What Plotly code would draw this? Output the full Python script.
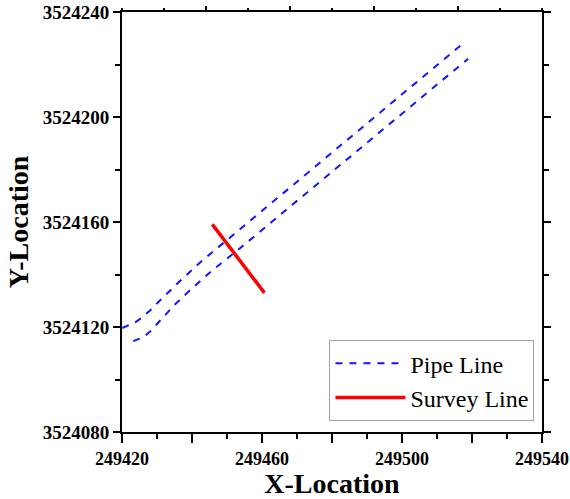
import plotly.graph_objects as go

# Pipe line (upper edge)
pipe_upper_x = [249420.1, 249423.8, 249425.8, 249428.1, 249430.9, 249433.8, 249436.7, 249442.4, 249516.8]
pipe_upper_y = [3524119.6, 3524121.8, 3524123.7, 3524126.4, 3524130.2, 3524134.1, 3524137.7, 3524144.7, 3524227.3]
# Pipe line (lower edge)
pipe_lower_x = [249423.2, 249426.1, 249428.1, 249430.9, 249435.2, 249439.5, 249445.2, 249453.8, 249518.9]
pipe_lower_y = [3524114.6, 3524116.1, 3524118.4, 3524122.6, 3524128.7, 3524134.1, 3524140.9, 3524150.1, 3524222.2]
# Survey line
survey_x = [249445.8, 249460.7]
survey_y = [3524159.1, 3524133.0]

x_tickvals = [249420, 249440, 249460, 249480, 249500, 249520, 249540]
x_ticktext = ["249420", "", "249460", "", "249500", "", "249540"]
y_tickvals = [3524080, 3524120, 3524160, 3524200, 3524240]
y_ticktext = ["3524080", "3524120", "3524160", "3524200", "3524240"]
top_tickvals = [249444, 249468, 249492, 249516]

FONT = "Liberation Serif"
BLUE = "#1414ff"
RED = "#ff0000"

fig = go.Figure()
fig.add_trace(go.Scatter(x=pipe_upper_x, y=pipe_upper_y, mode="lines", name="Pipe Line",
                         line=dict(color=BLUE, width=2, dash="7px,7px"), legendgroup="pipe"))
fig.add_trace(go.Scatter(x=pipe_lower_x, y=pipe_lower_y, mode="lines", name="Pipe Line",
                         line=dict(color=BLUE, width=2, dash="7px,7px"), legendgroup="pipe",
                         showlegend=False))
fig.add_trace(go.Scatter(x=survey_x, y=survey_y, mode="lines", name="Survey Line",
                         line=dict(color=RED, width=3.5)))
# invisible trace to activate top tick axis
fig.add_trace(go.Scatter(x=[249420, 249540], y=[3524080, 3524080], xaxis="x2", mode="lines",
                         line=dict(width=0), showlegend=False, hoverinfo="skip", opacity=0))

fig.update_layout(
    width=570, height=499,
    margin=dict(l=122, r=28, t=12, b=67, autoexpand=False),
    paper_bgcolor="white", plot_bgcolor="white",
    showlegend=True,
    legend=dict(x=0.982, y=0.026, xanchor="right", yanchor="bottom",
                bordercolor="#a0a0a0", borderwidth=1, bgcolor="white",
                font=dict(family=FONT, size=24, color="black"),
                itemwidth=70, tracegroupgap=0),
    xaxis=dict(range=[249420, 249540], tickmode="array", tickvals=x_tickvals, ticktext=x_ticktext,
               ticks="outside", ticklen=9, tickwidth=1.5, tickcolor="black", automargin=False,
               minor=dict(dtick=10, tick0=249420, ticks="outside", ticklen=5, tickwidth=1.5, tickcolor="black"),
               showline=True, linecolor="black", linewidth=2, mirror=True,
               showgrid=False, zeroline=False,
               tickfont=dict(family=FONT, size=18, color="black", weight="bold"),
               title=dict(text="X-Location", font=dict(family=FONT, size=28, color="black", weight="bold"),
                          standoff=2)),
    xaxis2=dict(range=[249420, 249540], overlaying="x", side="top", anchor="y", automargin=False,
                tickmode="array", tickvals=top_tickvals, showticklabels=False,
                ticks="outside", ticklen=5, tickwidth=1.5, tickcolor="black",
                minor=dict(dtick=12, tick0=249540, ticks="outside", ticklen=3, tickwidth=1.5, tickcolor="black"),
                showline=False, showgrid=False, zeroline=False),
    yaxis=dict(range=[3524080, 3524240], tickmode="array", tickvals=y_tickvals, ticktext=y_ticktext,
               ticks="outside", ticklen=7, tickwidth=1.5, tickcolor="black", automargin=False,
               minor=dict(dtick=20, tick0=3524080, ticks="outside", ticklen=5, tickwidth=1.5, tickcolor="black"),
               showline=True, linecolor="black", linewidth=2, mirror="ticks",
               showgrid=False, zeroline=False,
               tickfont=dict(family=FONT, size=19, color="black", weight="bold"),
               title=dict(text="Y-Location", font=dict(family=FONT, size=28, color="black", weight="bold"),
                          standoff=6)),
)

fig.write_html("out.html", config={"displayModeBar": False},
               post_script="document.body.style.margin='0';document.body.style.overflow='hidden';")
